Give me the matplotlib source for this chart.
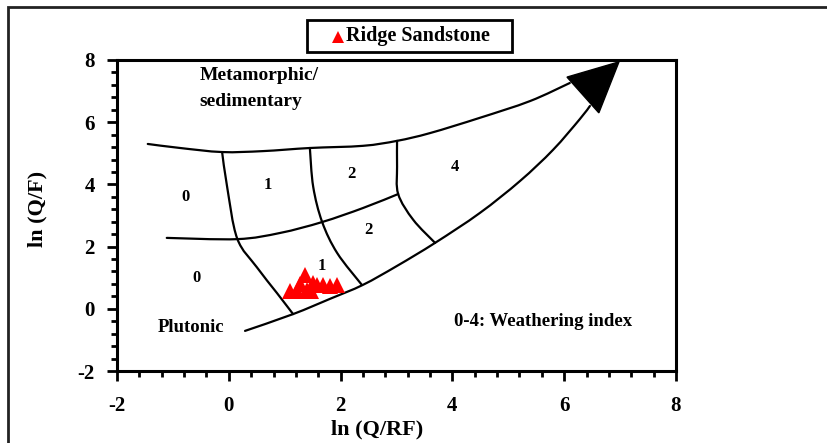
"""ln(Q/F) vs ln(Q/RF) weathering diagram with Ridge Sandstone samples."""
import matplotlib
matplotlib.use("Agg")
import matplotlib.pyplot as plt
import numpy as np
from matplotlib.lines import Line2D
from matplotlib.patches import PathPatch, Polygon, Rectangle
from matplotlib.path import Path
from matplotlib.ticker import MultipleLocator

# samples
sample_x = [1.10, 1.22, 1.27, 1.36, 1.40, 1.47, 1.51, 1.58, 1.69, 1.81, 1.94]
sample_y = [0.57, 0.57, 0.80, 1.09, 0.61, 0.57, 0.83, 0.77, 0.77, 0.73, 0.77]
sample_name = "Ridge Sandstone"

# field boundaries
upper_x = [-1.45, -0.87, -0.12, 0.61, 1.45, 2.40, 3.01, 3.60, 4.49, 5.39, 6.10]
upper_y = [5.30, 5.17, 5.04, 5.07, 5.17, 5.24, 5.40, 5.65, 6.14, 6.68, 7.26]
lower_x = [0.29, 1.15, 1.81, 2.40, 3.01, 3.69, 4.49, 5.21, 5.80, 6.28, 6.46]
lower_y = [-0.71, -0.17, 0.32, 0.77, 1.38, 2.12, 3.08, 4.11, 5.11, 6.10, 6.52]
middle_x = [-1.11, 0.15, 0.92, 1.67, 2.40, 3.03]
middle_y = [2.28, 2.24, 2.44, 2.79, 3.24, 3.69]
div_a_x = [-0.12, -0.03, 0.15, 0.50, 0.86, 1.15]
div_a_y = [5.04, 3.92, 2.26, 1.34, 0.51, -0.17]
div_b_x = [1.45, 1.51, 1.67, 1.94, 2.38]
div_b_y = [5.17, 3.92, 2.79, 1.79, 0.77]
div_c_x = [3.01, 3.01, 3.03, 3.30, 3.69]
div_c_y = [5.40, 4.56, 3.69, 2.86, 2.12]
head_x = [6.05, 6.98, 6.62]
head_y = [7.45, 7.94, 6.30]

# weathering index labels
zone_labels = ["0", "1", "2", "4", "0", "2", "1"]
zone_x = [-0.78, 0.70, 2.19, 4.05, -0.57, 2.49, 1.67]
zone_y = [3.59, 3.98, 4.33, 4.56, 0.99, 2.53, 1.38]

FONT = "Liberation Serif"


def smooth_path(xs, ys):
    # Catmull-Rom through the read points, as cubic bezier segments
    p = np.column_stack([xs, ys])
    p = np.vstack([p[0], p, p[-1]])
    verts, codes = [p[1]], [Path.MOVETO]
    for i in range(1, len(p) - 2):
        c1 = p[i] + (p[i + 1] - p[i - 1]) / 6
        c2 = p[i + 1] - (p[i + 2] - p[i]) / 6
        verts += [c1, c2, p[i + 1]]
        codes += [Path.CURVE4] * 3
    return Path(verts, codes)


def main() -> None:
    plt.rcParams["font.family"] = [FONT, "DejaVu Serif"]
    plt.rcParams["font.weight"] = "bold"
    plt.rcParams["axes.unicode_minus"] = False

    fig = plt.figure(figsize=(8.27, 4.43), dpi=100)
    ax = fig.add_axes([0.1415, 0.1625, 0.8174 - 0.1415, 0.8646 - 0.1625])

    # outer frame of the original figure (only left/top edges visible)
    fig.patches.append(Rectangle((8 / 827, -0.2), 1.2, 1.2 - 7 / 443,
                                 transform=fig.transFigure, fill=False,
                                 edgecolor="#222222", lw=2.0))

    for xs, ys in [(upper_x, upper_y), (lower_x, lower_y), (middle_x, middle_y),
                   (div_a_x, div_a_y), (div_b_x, div_b_y), (div_c_x, div_c_y)]:
        ax.add_patch(PathPatch(smooth_path(xs, ys), facecolor="none",
                               edgecolor="black", lw=1.6, capstyle="round"))
    ax.add_patch(Polygon(list(zip(head_x, head_y)), closed=True,
                         facecolor="black", edgecolor="black", lw=1))

    for t, x, y in zip(zone_labels, zone_x, zone_y):
        ax.text(x, y, t, ha="center", va="center", fontsize=12, fontweight="bold")

    ax.text(-0.52, 7.49, "Metamorphic/", ha="left", va="center", fontsize=14,
            fontweight="bold")
    ax.text(-0.52, 6.68, "sedimentary", ha="left", va="center", fontsize=14,
            fontweight="bold")
    ax.text(-0.68, -0.59, "Plutonic", ha="center", va="center", fontsize=13.5,
            fontweight="bold")
    ax.text(5.62, -0.42, "0-4: Weathering index", ha="center", va="center",
            fontsize=13.5, fontweight="bold")

    ax.plot(sample_x, sample_y, "^", color="#ff0000", ms=11, mew=0)

    ax.set_xlim(-2, 8)
    ax.set_ylim(-2, 8)
    ax.xaxis.set_major_locator(MultipleLocator(2))
    ax.yaxis.set_major_locator(MultipleLocator(2))
    ax.xaxis.set_minor_locator(MultipleLocator(0.4))
    ax.yaxis.set_minor_locator(MultipleLocator(0.4))
    ax.tick_params(which="major", direction="out", length=7, width=2,
                   labelsize=15, pad=11)
    ax.tick_params(which="minor", direction="out", length=4, width=2)
    ax.tick_params(axis="y", pad=9)
    for lab in ax.get_xticklabels() + ax.get_yticklabels():
        lab.set_fontweight("bold")
    for sp in ax.spines.values():
        sp.set_linewidth(2.2)

    ax.set_xlabel("ln (Q/RF)", fontsize=16, fontweight="bold", labelpad=2)
    ax.xaxis.set_label_coords(0.465, -0.155)
    ax.set_ylabel("ln (Q/F)", fontsize=16, fontweight="bold")
    ax.yaxis.set_label_coords(-0.125, 0.52)

    # legend box drawn by hand (original has uneven padding)
    fig.patches.append(Rectangle((307 / 827, 1 - 52 / 443), 205 / 827, 32 / 443,
                                 transform=fig.transFigure, fill=False,
                                 edgecolor="black", lw=2.0))
    fig.lines.append(Line2D([338 / 827], [1 - 37 / 443], transform=fig.transFigure,
                            marker="^", ms=8.5, mew=0, color="#ff0000",
                            linestyle="none"))
    fig.text(346 / 827, 1 - 36 / 443, sample_name, ha="left", va="center",
             fontsize=14.5, fontweight="bold")

    fig.savefig("out.png", dpi=100)


if __name__ == "__main__":
    main()
